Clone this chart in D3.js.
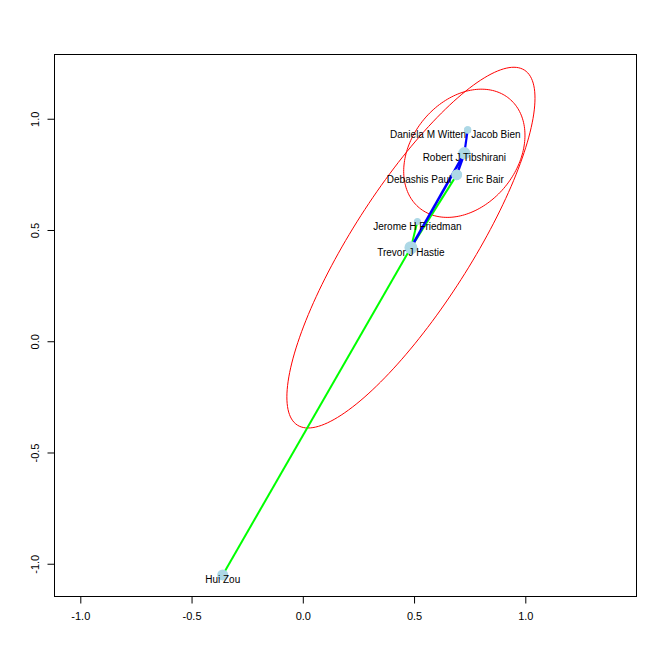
<!DOCTYPE html>
<html>
<head>
<meta charset="utf-8">
<script src="https://cdn.jsdelivr.net/npm/d3@7"></script>
<style>
  html, body { margin: 0; padding: 0; background: #fff; }
  svg { display: block; }
  text { font-family: "Liberation Sans", Arial, Helvetica, sans-serif; }
</style>
</head>
<body>
<svg id="chart" width="664" height="664"></svg>
<script>
// ---------------- data ----------------
const nodeNames = ["Hui Zou", "Trevor J Hastie", "Jerome H Friedman", "Debashis Paul",
                   "Eric Bair", "Robert J Tibshirani", "Daniela M Witten", "Jacob Bien"];
const nodeX = [-0.360, 0.486, 0.515, 0.692, 0.692, 0.726, 0.741, 0.741];
const nodeY = [-1.048, 0.423, 0.540, 0.750, 0.750, 0.847, 0.952, 0.952];
const nodeSize = [5.5, 6.5, 3.5, 5.3, 5.3, 6.2, 3.6, 3.6];
const labelSide = ["center", "center", "center", "left", "right", "center", "left", "right"];

const edgeFrom = ["Hui Zou", "Trevor J Hastie", "Jerome H Friedman", "Trevor J Hastie", "Debashis Paul", "Robert J Tibshirani"];
const edgeTo = ["Trevor J Hastie", "Debashis Paul", "Trevor J Hastie", "Robert J Tibshirani", "Robert J Tibshirani", "Daniela M Witten"];
const edgeGroup = ["g", "g", "g", "b", "b", "b"];
const edgeWeight = [2, 2, 2, 2.6, 2.6, 2.2];

const ellipseCenter = ["Trevor J Hastie", "Robert J Tibshirani"];
const ellipseMajor = [0.947, 0.318];
const ellipseMinor = [0.267, 0.237];
const ellipseAngle = [57.4, 50.6];

const xTicks = [-1.0, -0.5, 0.0, 0.5, 1.0];
const yTicks = [-1.0, -0.5, 0.0, 0.5, 1.0];
const xTickLabels = ["-1.0", "-0.5", "0.0", "0.5", "1.0"];
const yTickLabels = ["-1.0", "-0.5", "0.0", "0.5", "1.0"];
const xDomain = [-1.116, 1.4998];
const yDomain = [-1.145, 1.291];

// ---------------- layout ----------------
const box = { left: 54.5, right: 636.5, top: 54.5, bottom: 596.5 };
const x = d3.scaleLinear().domain(xDomain).range([box.left, box.right]);
const y = d3.scaleLinear().domain(yDomain).range([box.bottom, box.top]);
const edgeColor = d3.scaleOrdinal().domain(["g", "b"]).range(["#00ff00", "#0000ff"]);
const rScale = d3.scaleIdentity();
const wScale = d3.scaleIdentity();
// label nudges (pixels) for names sharing a vertex position
const labelNudge = { "Debashis Paul": -5.5, "Eric Bair": 9.3, "Daniela M Witten": -1.5, "Jacob Bien": 3.5 };

const svg = d3.select("#chart");
const nodes = nodeNames.map((n, i) => ({ name: n, x: nodeX[i], y: nodeY[i], size: nodeSize[i], side: labelSide[i] }));
const byName = new Map(nodes.map(d => [d.name, d]));
const edges = edgeFrom.map((f, i) => ({ s: byName.get(f), t: byName.get(edgeTo[i]), g: edgeGroup[i], w: edgeWeight[i] }));

svg.append("defs").append("clipPath").attr("id", "clip")
  .append("rect").attr("x", box.left).attr("y", box.top)
  .attr("width", box.right - box.left).attr("height", box.bottom - box.top);

const plot = svg.append("g").attr("clip-path", "url(#clip)");

// ellipses
const ellipses = ellipseCenter.map((c, i) => ({ c: byName.get(c), a: ellipseMajor[i], b: ellipseMinor[i], ang: ellipseAngle[i] * Math.PI / 180 }));
const lineGen = d3.line().x(p => x(p[0])).y(p => y(p[1])).curve(d3.curveLinearClosed);
plot.selectAll("path.ell").data(ellipses).join("path")
  .attr("class", "ell")
  .attr("fill", "none").attr("stroke", "#ff0000").attr("stroke-width", 1)
  .attr("d", e => {
    const pts = d3.range(0, 360, 2).map(deg => {
      const p = deg * Math.PI / 180;
      const u = e.a * Math.cos(p), v = e.b * Math.sin(p);
      return [e.c.x + u * Math.cos(e.ang) - v * Math.sin(e.ang),
              e.c.y + u * Math.sin(e.ang) + v * Math.cos(e.ang)];
    });
    return lineGen(pts);
  });

// edges
plot.selectAll("line.edge").data(edges).join("line")
  .attr("class", "edge")
  .attr("x1", d => x(d.s.x)).attr("y1", d => y(d.s.y))
  .attr("x2", d => x(d.t.x)).attr("y2", d => y(d.t.y))
  .attr("stroke", d => edgeColor(d.g))
  .attr("stroke-width", d => wScale(d.w));

// vertices
plot.selectAll("circle.node").data(nodes).join("circle")
  .attr("class", "node")
  .attr("cx", d => x(d.x)).attr("cy", d => y(d.y))
  .attr("r", d => rScale(d.size))
  .attr("fill", "#add8e6");

// labels
const labelAnchor = { center: "middle", left: "end", right: "start" };
plot.selectAll("text.lab").data(nodes).join("text")
  .attr("class", "lab")
  .attr("x", d => x(d.x) + (labelNudge[d.name] || 0))
  .attr("y", d => y(d.y) + 4.5)
  .attr("dy", "0.35em")
  .attr("text-anchor", d => labelAnchor[d.side])
  .attr("font-size", 10)
  .attr("fill", "#000")
  .text(d => d.name);

// box
svg.append("rect")
  .attr("x", box.left).attr("y", box.top)
  .attr("width", box.right - box.left).attr("height", box.bottom - box.top)
  .attr("fill", "none").attr("stroke", "#000").attr("stroke-width", 1);

// axes (R style)
const xAxis = d3.axisBottom(x).tickValues(xTicks).tickSize(7).tickPadding(9)
  .tickFormat((d, i) => xTickLabels[i]);
const gx = svg.append("g").attr("transform", `translate(0,${box.bottom})`).call(xAxis);
gx.select(".domain").attr("d", `M${x(xTicks[0])},0H${x(xTicks[xTicks.length - 1])}`);
gx.selectAll("text").attr("font-size", 11).attr("font-family", "Liberation Sans, Arial, sans-serif").attr("fill", "#000");
gx.selectAll("line").attr("stroke", "#000");

const yAxis = d3.axisLeft(y).tickValues(yTicks).tickSize(7).tickPadding(0)
  .tickFormat((d, i) => yTickLabels[i]);
const gy = svg.append("g").attr("transform", `translate(${box.left},0)`).call(yAxis);
gy.select(".domain").attr("d", `M0,${y(yTicks[0])}V${y(yTicks[yTicks.length - 1])}`);
gy.selectAll("line").attr("stroke", "#000");
gy.selectAll("text")
  .attr("font-size", 11).attr("font-family", "Liberation Sans, Arial, sans-serif").attr("fill", "#000")
  .attr("x", null).attr("dy", null)
  .attr("text-anchor", "middle")
  .attr("transform", d => `translate(${-19.5},${y(d)}) rotate(-90)`)
  .attr("y", 0)
  .attr("dominant-baseline", "central");
gy.selectAll(".tick").attr("transform", null);
gy.selectAll(".tick line").attr("transform", d => `translate(0,${y(d)})`);
</script>
</body>
</html>
